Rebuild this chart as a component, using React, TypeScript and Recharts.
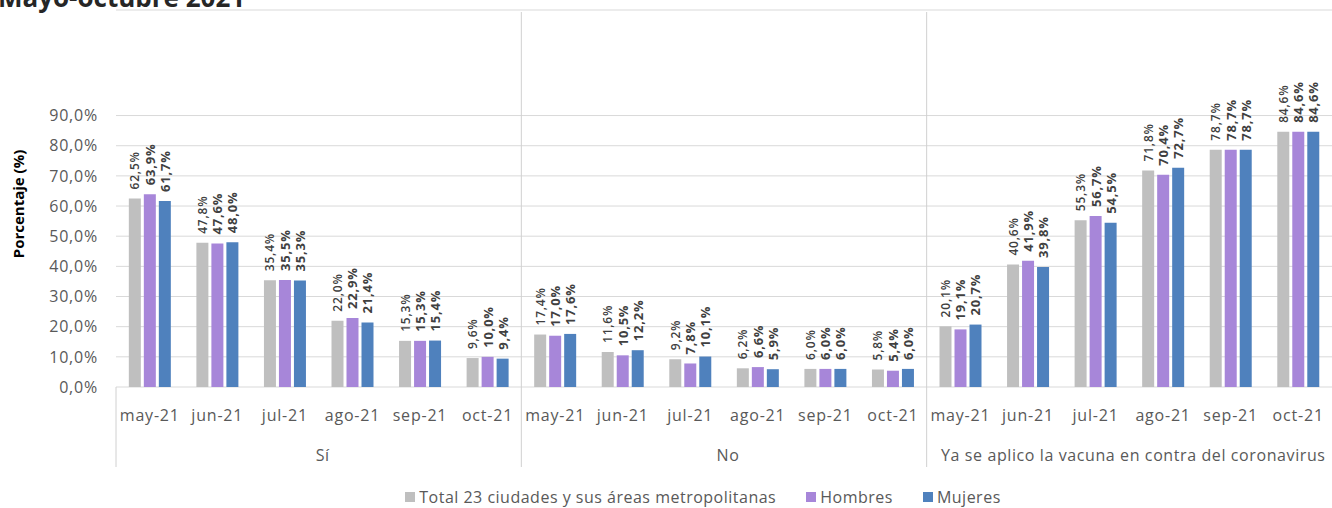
import { Bar, BarChart, CartesianGrid, LabelList, Legend, XAxis, YAxis } from 'recharts';

const MONTHS = ['may-21', 'jun-21', 'jul-21', 'ago-21', 'sep-21', 'oct-21'];
const GROUPS = ['Sí', 'No', 'Ya se aplico la vacuna en contra del coronavirus'];

// Sí | No | Ya se aplicó, each May..Oct
const TOTAL = [62.5, 47.8, 35.4, 22.0, 15.3, 9.6, 17.4, 11.6, 9.2, 6.2, 6.0, 5.8, 20.1, 40.6, 55.3, 71.8, 78.7, 84.6];
const HOMBRES = [63.9, 47.6, 35.5, 22.9, 15.3, 10.0, 17.0, 10.5, 7.8, 6.6, 6.0, 5.4, 19.1, 41.9, 56.7, 70.4, 78.7, 84.6];
const MUJERES = [61.7, 48.0, 35.3, 21.4, 15.4, 9.4, 17.6, 12.2, 10.1, 5.9, 6.0, 6.0, 20.7, 39.8, 54.5, 72.7, 78.7, 84.6];

const Y_TICKS = [0, 10, 20, 30, 40, 50, 60, 70, 80, 90];

const SERIES = [
  { key: 'total', name: 'Total 23 ciudades y sus áreas metropolitanas', color: '#BFBFBF' },
  { key: 'hombres', name: 'Hombres', color: '#A786D9' },
  { key: 'mujeres', name: 'Mujeres', color: '#4F81BD' },
];

const data = TOTAL.map((v, i) => ({
  key: String(i),
  month: MONTHS[i % 6],
  group: GROUPS[Math.floor(i / 6)],
  total: v,
  hombres: HOMBRES[i],
  mujeres: MUJERES[i],
}));

const W = 1332;
const H = 508;
const Y_AXIS_W = 116;
const BAND = (W - Y_AXIS_W) / data.length;
const FONT = '"Open Sans", "Noto Sans", sans-serif';
const AXIS_TEXT = '#595959';

const fmt = (v: number) => `${v.toFixed(1).replace('.', ',')}%`;

function makeBarLabel(size: number, weight: number) {
  return (p: any) => {
    const cx = Number(p.x) + Number(p.width) / 2;
    const ty = Number(p.y) - 9;
    return (
      <text
        x={cx}
        y={ty}
        transform={`rotate(-90 ${cx} ${ty})`}
        textAnchor="start"
        dominantBaseline="central"
        fontFamily={FONT}
        fontSize={size}
        fontWeight={weight}
        fill="#404040"
        style={{ letterSpacing: 0.8 }}
      >
        {fmt(Number(p.value))}
      </text>
    );
  };
}

function MonthTick(props: any) {
  const { x, y, payload } = props;
  const i = Number(payload.value);
  const row = data[i];
  const left = x - BAND / 2;
  return (
    <g>
      <text
        x={x}
        y={y + 34}
        textAnchor="middle"
        fontFamily={FONT}
        fontSize={16}
        fill={AXIS_TEXT}
        style={{ letterSpacing: 0.8 }}
      >
        {row.month}
      </text>
      {i % 6 === 0 && (
        <line x1={left} x2={left} y1={i === 0 ? y : y - 375} y2={y + 80} stroke="#D0D0D0" strokeWidth={1} />
      )}
      {i % 6 === 3 && (
        <text
          x={left + 4}
          y={y + 74}
          textAnchor="middle"
          fontFamily={FONT}
          fontSize={16}
          fill={AXIS_TEXT}
          style={{ letterSpacing: 0.6 }}
        >
          {row.group}
        </text>
      )}
    </g>
  );
}

function LegendContent() {
  return (
    <div
      style={{
        height: 22,
        display: 'flex',
        justifyContent: 'center',
        alignItems: 'center',
        gap: 30,
        paddingLeft: 74,
        fontFamily: FONT,
        fontSize: 16,
        color: AXIS_TEXT,
        letterSpacing: 0.5,
      }}
    >
      {SERIES.map((s) => (
        <div key={s.key} style={{ display: 'flex', alignItems: 'center', gap: 4 }}>
          <span style={{ width: 10, height: 10, background: s.color, display: 'inline-block' }} />
          <span>{s.name}</span>
        </div>
      ))}
    </div>
  );
}

export default function App() {
  return (
    <div style={{ position: 'absolute', left: 0, top: 0, width: W, height: H, overflow: 'hidden', background: '#fff' }}>
      <div
        style={{
          position: 'absolute',
          left: -2,
          top: -16,
          fontFamily: FONT,
          fontSize: 26,
          lineHeight: '26px',
          fontWeight: 700,
          color: '#262626',
          whiteSpace: 'nowrap',
        }}
      >
        Mayo-octubre 2021
      </div>
      <BarChart
        width={W}
        height={H}
        data={data}
        margin={{ top: 10, right: 0, bottom: 0, left: 0 }}
        barCategoryGap="19%"
        barGap={3}
      >
        <CartesianGrid horizontal vertical={false} stroke="#D9D9D9" />
        <XAxis
          dataKey="key"
          interval={0}
          height={99}
          tickSize={0}
          tickMargin={0}
          tickLine={false}
          axisLine={false}
          tick={<MonthTick />}
        />
        <YAxis
          width={Y_AXIS_W}
          domain={[0, 125]}
          ticks={Y_TICKS}
          allowDataOverflow
          tickFormatter={fmt}
          tickSize={0}
          tickMargin={18}
          tickLine={false}
          axisLine={false}
          tick={{ fill: AXIS_TEXT, fontSize: 16, fontFamily: FONT, style: { letterSpacing: 0.8 } }}
          label={{
            content: () => (
              <text
                x={18}
                y={204}
                transform="rotate(-90 18 204)"
                textAnchor="middle"
                dominantBaseline="central"
                fontFamily={FONT}
                fontSize={15}
                fontWeight={700}
                fill="#000"
              >
                Porcentaje (%)
              </text>
            ),
          }}
        />
        <Legend verticalAlign="bottom" content={<LegendContent />} />
        {SERIES.map((s) => (
          <Bar key={s.key} dataKey={s.key} name={s.name} fill={s.color} isAnimationActive={false}>
            <LabelList
              dataKey={s.key}
              content={s.key === 'total' ? makeBarLabel(12, 600) : makeBarLabel(13, 700)}
            />
          </Bar>
        ))}
      </BarChart>
    </div>
  );
}
